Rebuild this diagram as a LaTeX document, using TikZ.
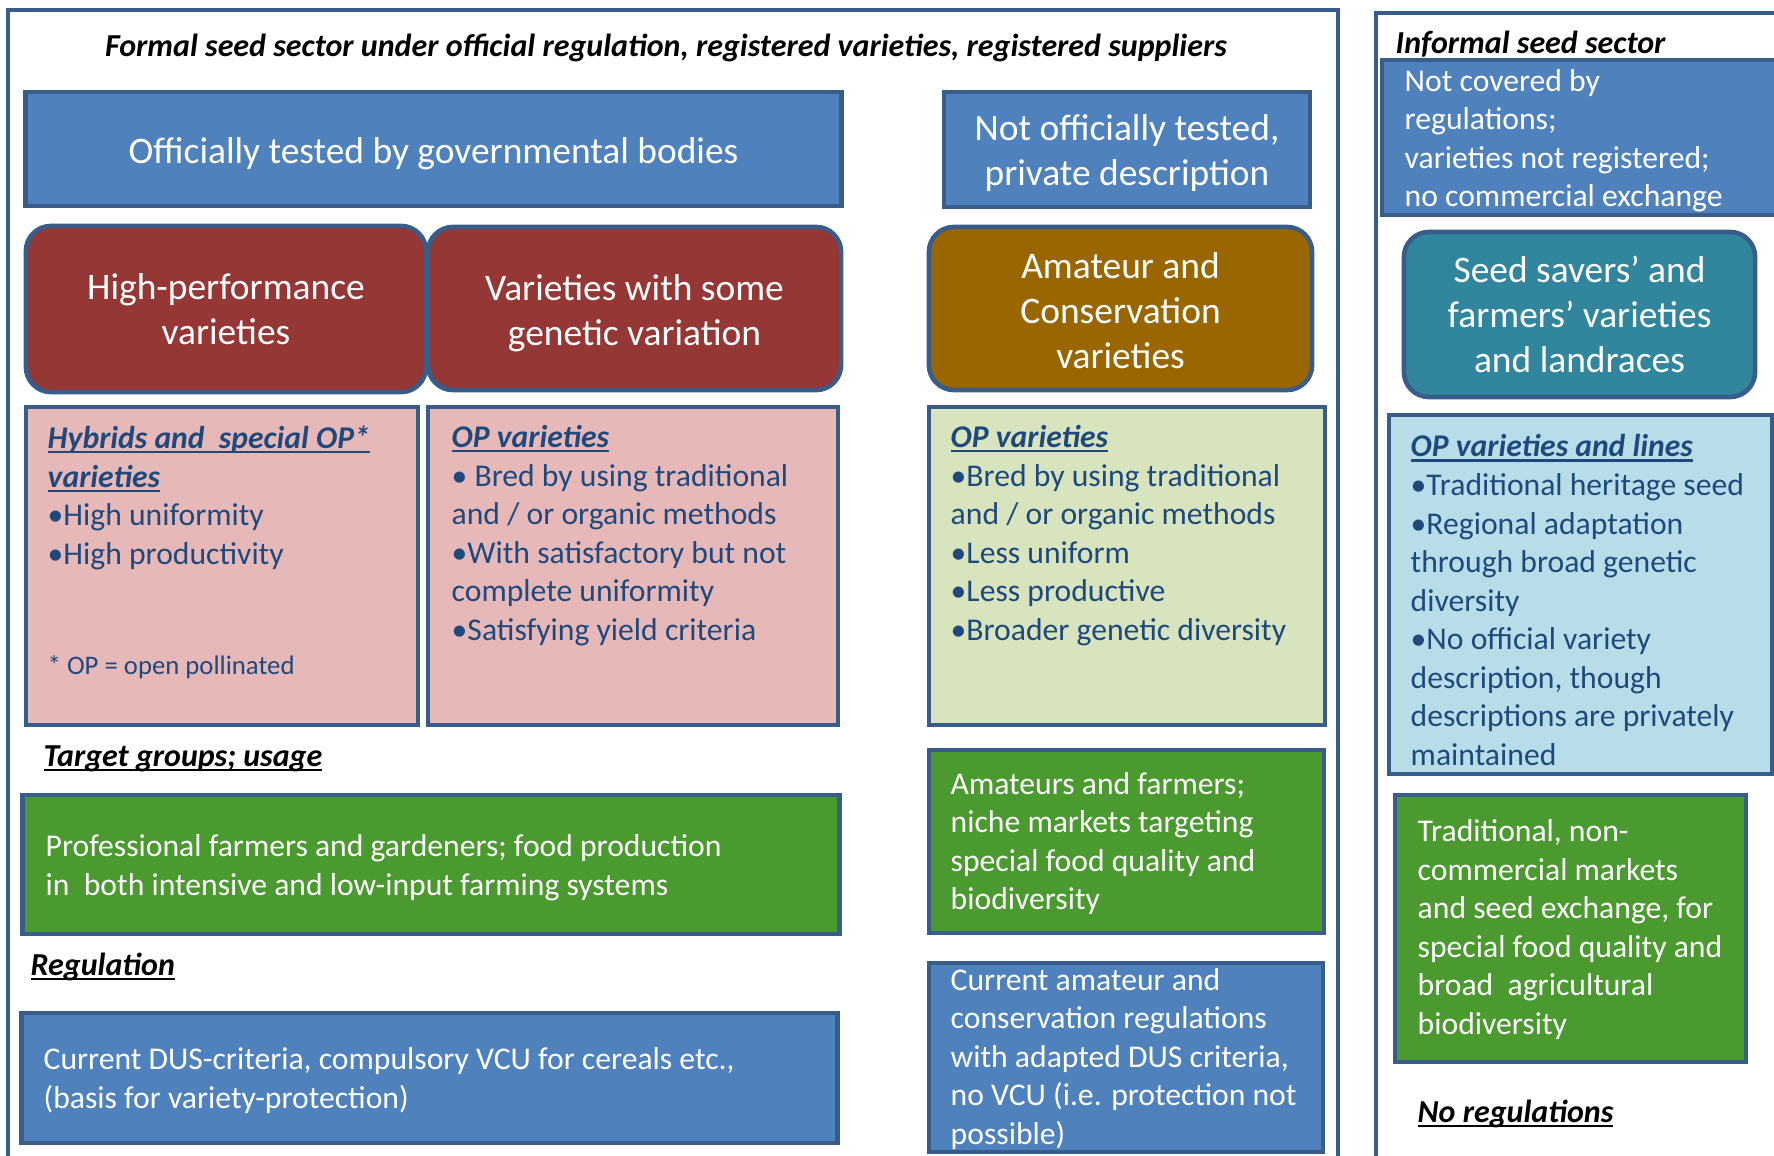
\documentclass[tikz,border=0pt]{standalone}
\usepackage{fontspec}
\setmainfont{Carlito}

\definecolor{boxblue}{HTML}{4F81BD}
\definecolor{edgeblue}{HTML}{385D8A}
\definecolor{boxred}{HTML}{953735}
\definecolor{boxpink}{HTML}{E6B9B8}
\definecolor{boxbrown}{HTML}{996600}
\definecolor{boxteal}{HTML}{31859C}
\definecolor{boxlime}{HTML}{D7E4BD}
\definecolor{boxsky}{HTML}{B7DEE8}
\definecolor{boxgreen}{HTML}{4A9A2F}
\definecolor{textblue}{HTML}{1F497D}

\newcommand{\undl}[1]{\setbox0=\hbox{#1}\rlap{\rule[-1.3pt]{\wd0}{0.65pt}}\box0}

\begin{document}
\begin{tikzpicture}[x=0.01cm,y=-0.01cm,
   sectorframe/.style={draw=edgeblue,line width=1.4pt},
   panel/.style={draw=edgeblue,line width=1.3pt,inner sep=0pt},
   roundpanel/.style={panel,rounded corners=0.25cm},
   bigtext/.style={text=white,align=center,inner sep=0pt,font=\fontsize{10.65}{12.8}\selectfont},
   bodytext/.style={anchor=west,inner sep=0pt,yshift=-0.15pt,align=left,font=\fontsize{9}{10.95}\selectfont},
   headlabel/.style={anchor=west,inner sep=0pt,font=\fontsize{9.1}{11}\selectfont\bfseries\itshape}]

   \useasboundingbox (0,0) rectangle (1774,1155);

   \draw[sectorframe] (8,1175) -- (8,10) -- (1338,10) -- (1338,1175);
   \draw[sectorframe] (1376,1175) -- (1376,13) -- (1790,13);

   \node[headlabel,anchor=center] (formaltitle) at (666,48)
      {Formal seed sector under official regulation, registered varieties, registered suppliers};
   \node[headlabel] (informaltitle) at (1395,44) {Informal seed sector};

   \node[panel,fill=boxblue,minimum width=8.15cm,minimum height=1.14cm] (official) at (433.5,149) {};
   \node[bigtext] (officialtext) at (433.5,153.5) {Officially tested by governmental bodies};
   \node[panel,fill=boxblue,minimum width=3.66cm,minimum height=1.15cm] (private) at (1127,149.5) {};
   \node[bigtext] (privatetext) at (1127,153) {Not officially tested,\\ private description};
   \node[panel,fill=boxblue,minimum width=4.03cm,minimum height=1.55cm] (notcovered) at (1583.5,137.5) {};
   \node[bodytext,text=white] (notcoveredtext) at (1404,140)
      {Not covered by\\ regulations;\\ varieties not registered;\\ no commercial exchange};

   \node[roundpanel,fill=boxred,minimum width=4.00cm,minimum height=1.66cm] (highperf) at (226,309) {};
   \node[bigtext] (highperftext) at (226,309.5) {High-performance\\ varieties};
   \node[roundpanel,fill=boxred,minimum width=4.13cm,minimum height=1.63cm] (somevar) at (634.5,308.5) {};
   \node[bigtext] (somevartext) at (634.5,313.5) {Varieties with some\\ genetic variation};
   \node[roundpanel,fill=boxbrown,minimum width=3.83cm,minimum height=1.63cm] (amateur) at (1120.5,308.5) {};
   \node[bigtext] (amateurtext) at (1120.5,311) {Amateur and\\ Conservation\\ varieties};
   \node[roundpanel,fill=boxteal,minimum width=3.51cm,minimum height=1.65cm] (seedsavers) at (1579.5,314.5) {};
   \node[bigtext] (seedsaverstext) at (1579.5,314.5) {Seed savers’ and\\ farmers’ varieties\\ and landraces};

   \node[panel,fill=boxpink,minimum width=3.92cm,minimum height=3.18cm] (hybrid) at (222,566) {};
   \node[bodytext,text=textblue] (hybridtext) at (47,497.5)
      {\undl{\bfseries\itshape Hybrids and\ \ special OP*}\\ \undl{\bfseries\itshape varieties}\\
       \textbullet High uniformity\\ \textbullet High productivity};
   \node[bodytext,text=textblue,font=\fontsize{7.6}{9}\selectfont] (opnote) at (47,667) {* OP = open pollinated};

   \node[panel,fill=boxpink,minimum width=4.10cm,minimum height=3.18cm] (opformal) at (633,566) {};
   \node[bodytext,text=textblue] (opformaltext) at (451,535)
      {\undl{\bfseries\itshape OP varieties}\\ \textbullet\ Bred by using traditional\\ and / or organic methods\\
       \textbullet With satisfactory but not\\ complete uniformity\\ \textbullet Satisfying yield criteria};

   \node[panel,fill=boxlime,minimum width=3.96cm,minimum height=3.18cm] (oplime) at (1127,566) {};
   \node[bodytext,text=textblue] (oplimetext) at (950,535)
      {\undl{\bfseries\itshape OP varieties}\\ \textbullet Bred by using traditional\\ and / or organic methods\\
       \textbullet Less uniform\\ \textbullet Less productive\\ \textbullet Broader genetic diversity};

   \node[panel,fill=boxsky,minimum width=3.83cm,minimum height=3.59cm] (opsky) at (1580.5,594.5) {};
   \node[bodytext,text=textblue] (opskytext) at (1410,599.5)
      {\undl{\bfseries\itshape OP varieties and lines}\\ \textbullet Traditional heritage seed\\ \textbullet Regional adaptation\\
       through broad genetic\\ diversity\\ \textbullet No official variety\\ description, though\\
       descriptions are privately\\ maintained};

   \node[headlabel] (targetlabel) at (43,759) {\undl{Target groups; usage}};
   \node[headlabel] (reglabel) at (30,967) {\undl{Regulation}};
   \node[headlabel] (noreglabel) at (1417,1114) {\undl{No regulations}};

   \node[panel,fill=boxgreen,minimum width=8.16cm,minimum height=1.39cm] (profgreen) at (431,864.5) {};
   \node[bodytext,text=white] (profgreentext) at (45,867)
      {Professional farmers and gardeners; food production\\ in\ \ both intensive and low-input farming systems};

   \node[panel,fill=boxgreen,minimum width=3.95cm,minimum height=1.83cm] (amateurgreen) at (1126.5,841.5) {};
   \node[bodytext,text=white] (amateurgreentext) at (950,843)
      {Amateurs and farmers;\\ niche markets targeting\\ special food quality and\\ biodiversity};

   \node[panel,fill=boxgreen,minimum width=3.51cm,minimum height=2.67cm] (tradgreen) at (1570.5,928.5) {};
   \node[bodytext,text=white] (tradgreentext) at (1417,929)
      {Traditional, non-\\ commercial markets\\ and seed exchange, for\\ special food quality and\\
       broad\ \ agricultural\\ biodiversity};

   \node[panel,fill=boxblue,minimum width=8.15cm,minimum height=1.30cm] (dusblue) at (429.5,1078) {};
   \node[bodytext,text=white] (dusbluetext) at (43,1080)
      {Current DUS-criteria, compulsory VCU for cereals etc.,\\ (basis for variety-protection)};

   \node[panel,fill=boxblue,minimum width=3.94cm,minimum height=1.89cm] (amateurblue) at (1126,1057.5) {};
   \node[bodytext,text=white] (amateurbluetext) at (950,1058.5)
      {Current amateur and\\ conservation regulations\\ with adapted DUS criteria,\\
       no VCU (i.e. protection not\\ possible)};

\end{tikzpicture}
\end{document}
